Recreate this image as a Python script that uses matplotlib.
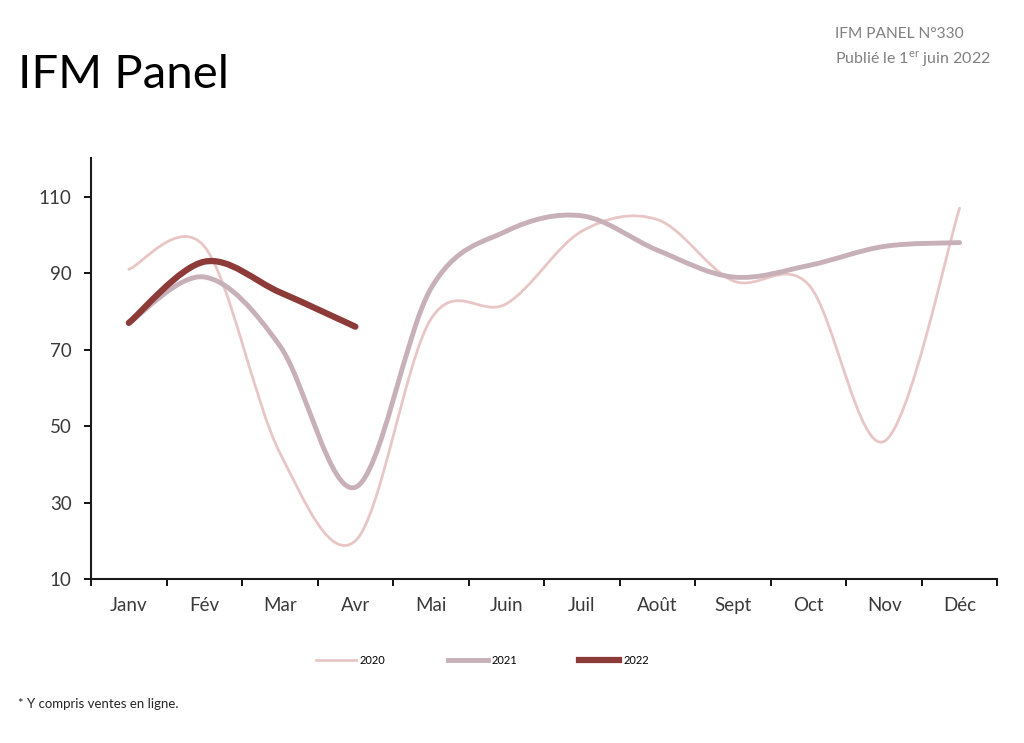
"""
IFM Panel: monthly index 2020-2022, smoothed lines like the Excel original.
"""

import numpy as np
import matplotlib.pyplot as plt
from matplotlib.path import Path
from matplotlib.patches import PathPatch
from matplotlib.lines import Line2D

months = ['Janv', 'Fév', 'Mar', 'Avr', 'Mai', 'Juin', 'Juil', 'Août',
          'Sept', 'Oct', 'Nov', 'Déc']
v2020 = [91, 97, 43, 20, 78, 82, 101, 104, 88, 87, 46, 107]
v2021 = [77, 89, 71, 34, 86, 101, 105, 96, 89, 92, 97, 98]
v2022 = [77, 93, 85, 76]
y_ticks = [10, 30, 50, 70, 90, 110]

plt.rcParams['font.family'] = ['Lato', 'DejaVu Sans']
plt.rcParams['mathtext.fontset'] = 'custom'
plt.rcParams['mathtext.rm'] = 'Lato'


def smooth_path(ys):
    # Excel style smoothing: cubic bezier with catmull-rom control points
    xs = np.arange(len(ys), dtype=float)
    pts = np.column_stack([xs, np.asarray(ys, dtype=float)])
    verts = [pts[0]]
    codes = [Path.MOVETO]
    n = len(pts)
    for i in range(n - 1):
        p0 = pts[i - 1] if i > 0 else pts[i]
        p1 = pts[i]
        p2 = pts[i + 1]
        p3 = pts[i + 2] if i + 2 < n else pts[i + 1]
        c1 = p1 + (p2 - p0) / 6.0
        c2 = p2 - (p3 - p1) / 6.0
        verts += [c1, c2, p2]
        codes += [Path.CURVE4] * 3
    return Path(verts, codes)


fig = plt.figure(figsize=(10.24, 7.43), dpi=100)
ax = fig.add_axes([0.0889, 0.2207, 0.8851, 0.566])

series = [
    ('2020', v2020, '#e9c6c6', 2.0),
    ('2021', v2021, '#c7b0b7', 3.5),
    ('2022', v2022, '#8c3b39', 4.5),
]
handles = []
for name, vals, col, lw in series:
    ax.add_patch(PathPatch(smooth_path(vals), facecolor='none', edgecolor=col,
                           lw=lw, capstyle='round', joinstyle='round'))
    handles.append(Line2D([], [], color=col, lw=lw, label=name))

ax.set_xlim(-0.5, 11.5)
ax.set_ylim(10, 120)
ax.set_yticks(y_ticks)
ax.set_xticks(range(len(months)))
ax.set_xticklabels(months)
ax.set_xticks(np.arange(-0.5, 12, 1.0), minor=True)
ax.tick_params(axis='x', which='major', length=0, pad=13, labelsize=13.5,
               labelcolor='#3a3a3a')
ax.tick_params(axis='x', which='minor', length=5, width=1.3, direction='out')
ax.tick_params(axis='y', length=5, width=1.3, direction='out', pad=9,
               labelsize=13.5, labelcolor='#3a3a3a')
for s in ['top', 'right']:
    ax.spines[s].set_visible(False)
for s in ['left', 'bottom']:
    ax.spines[s].set_linewidth(1.5)
    ax.spines[s].set_color('#1a1a1a')

fig.legend(handles=handles, loc='center', bbox_to_anchor=(0.471, 1 - 660 / 743),
           ncol=3, frameon=False, fontsize=8, handlelength=3.6,
           columnspacing=5.6, handletextpad=0.35)

fig.text(18 / 1024, 1 - 88 / 743, 'IFM Panel', fontsize=34, color='black',
         va='baseline')
fig.text(835 / 1024, 1 - 38 / 743, 'IFM PANEL N°330', fontsize=11.2,
         color='#808080', va='baseline')
fig.text(835 / 1024, 1 - 64 / 743, r'Publié le 1$^{\mathrm{er}}$ juin 2022',
         fontsize=11.5, color='#808080', va='baseline')
fig.text(18 / 1024, 1 - 708 / 743, '* Y compris ventes en ligne.', fontsize=9.5,
         color='#262626', va='baseline')

fig.savefig('out.png', dpi=100)
